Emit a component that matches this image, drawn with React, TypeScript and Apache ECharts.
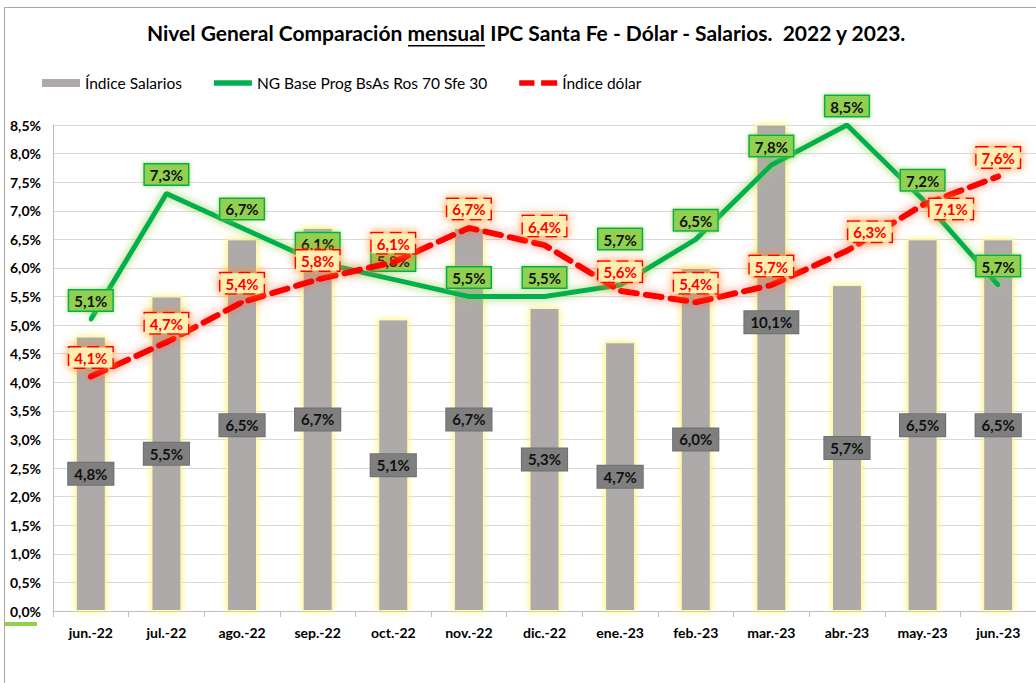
import React, { useEffect, useRef } from "react";
import * as echarts from "echarts";

const categories = ["jun.-22", "jul.-22", "ago.-22", "sep.-22", "oct.-22", "nov.-22", "dic.-22", "ene.-23", "feb.-23", "mar.-23", "abr.-23", "may.-23", "jun.-23"];
const salarios = [4.8, 5.5, 6.5, 6.7, 5.1, 6.7, 5.3, 4.7, 6.0, 10.1, 5.7, 6.5, 6.5];
const ngBase = [5.1, 7.3, 6.7, 6.1, 5.8, 5.5, 5.5, 5.7, 6.5, 7.8, 8.5, 7.2, 5.7];
const dolar = [4.1, 4.7, 5.4, 5.8, 6.1, 6.7, 6.4, 5.6, 5.4, 5.7, 6.3, 7.1, 7.6];

const NAME_SAL = "Índice Salarios";
const NAME_NG = "NG Base Prog BsAs Ros 70 Sfe 30";
const NAME_USD = "Índice dólar";

const FONT = "Lato, 'Noto Sans', sans-serif";
const fmt = (v: number) => v.toFixed(1).replace(".", ",") + "%";

export default function App() {
  const ref = useRef<HTMLDivElement>(null);
  useEffect(() => {
    if (!ref.current) return;
    const chart = echarts.init(ref.current, undefined, { renderer: "svg" });

    const ngData = ngBase.map((v, i) =>
      categories[i] === "ene.-23" ? { value: v, label: { offset: [0, -27] } } : v
    );
    const usdData = dolar.map((v, i) => {
      if (categories[i] === "abr.-23") return { value: v, label: { offset: [23, 0] } };
      if (categories[i] === "may.-23") return { value: v, label: { position: "right", distance: 5, offset: [0, 4] } };
      return v;
    });

    const option: any = {
      animation: false,
      backgroundColor: "#ffffff",
      textStyle: { fontFamily: FONT },
      title: {
        text: "Nivel General Comparación mensual IPC Santa Fe - Dólar - Salarios.  2022 y 2023.",
        left: 147,
        top: 22,
        padding: 0,
        textStyle: { fontFamily: FONT, fontSize: 21, fontWeight: "bold", color: "#000" },
      },
      legend: {
        left: 42,
        top: 75,
        padding: 0,
        itemGap: 32,
        itemWidth: 38,
        itemHeight: 8,
        textStyle: { fontFamily: FONT, fontSize: 15.5, color: "#000" },
        data: [
          { name: NAME_SAL, icon: "rect", itemStyle: { borderWidth: 0, shadowBlur: 0, color: "#aeaaaa" } },
          { name: NAME_NG, icon: "path://M0,0H40V6H0Z" },
          { name: NAME_USD, icon: "path://M0,0H16V6H0ZM23,0H40V6H23Z" },
        ],
      },
      grid: { left: 53, right: 0, top: 125, bottom: 72, containLabel: false },
      xAxis: {
        type: "category",
        data: categories,
        axisLine: { lineStyle: { color: "#bfbfbf" } },
        axisTick: { show: true, alignWithLabel: false, length: 6, lineStyle: { color: "#bfbfbf" } },
        axisLabel: { color: "#000", fontFamily: FONT, fontSize: 14, fontWeight: "bold", margin: 14 },
      },
      yAxis: {
        type: "value",
        min: 0,
        max: 8.5,
        interval: 0.5,
        axisLine: { show: true, lineStyle: { color: "#bfbfbf" } },
        axisTick: { show: false },
        splitLine: { lineStyle: { color: "#d9d9d9", width: 1 } },
        axisLabel: { color: "#000", fontFamily: FONT, fontSize: 14, fontWeight: "bold", margin: 12, formatter: (v: number) => fmt(v) },
      },
      series: [
        {
          name: NAME_SAL,
          type: "bar",
          data: salarios,
          barWidth: 30,
          clip: true,
          z: 2,
          itemStyle: {
            color: "#aeaaaa",
            borderColor: "#fffbb0",
            borderWidth: 1,
            shadowColor: "rgba(255,240,80,0.9)",
            shadowBlur: 6,
          },
        },
        {
          name: "labels-salarios",
          type: "bar",
          data: salarios,
          barWidth: 30,
          barGap: "-100%",
          clip: false,
          silent: true,
          z: 3,
          itemStyle: { color: "rgba(0,0,0,0)" },
          label: {
            show: true,
            position: "inside",
            formatter: (p: any) => fmt(p.value),
            color: "#111",
            fontFamily: FONT,
            fontSize: 15,
            fontWeight: "bold",
            backgroundColor: "#7f7f7f",
            borderColor: "#6f6f6f",
            borderWidth: 1,
            padding: [4, 6, 3, 6],
          },
        },
        {
          name: NAME_NG,
          type: "line",
          data: ngData,
          symbol: "circle",
          symbolSize: 4,
          z: 4,
          itemStyle: { color: "#00b050" },
          lineStyle: { color: "#00b050", width: 5, shadowColor: "rgba(146,208,80,0.9)", shadowBlur: 8 },
          label: {
            show: true,
            position: "top",
            distance: 7,
            formatter: (p: any) => fmt(p.value),
            color: "#111",
            fontFamily: FONT,
            fontSize: 15,
            fontWeight: "bold",
            backgroundColor: "#92d050",
            borderColor: "#00b050",
            borderWidth: 1.5,
            padding: [3, 5, 2, 5],
            shadowColor: "rgba(146,208,80,0.8)",
            shadowBlur: 4,
          },
        },
        {
          name: NAME_USD,
          type: "line",
          data: usdData,
          symbol: "circle",
          symbolSize: 4,
          z: 5,
          itemStyle: { color: "#ff0000" },
          lineStyle: { color: "#ff0000", width: 6, type: [16, 9], cap: "round", shadowColor: "rgba(255,90,60,0.7)", shadowBlur: 10 },
          label: {
            show: true,
            position: "top",
            distance: 7,
            formatter: (p: any) => fmt(p.value),
            color: "#ff0000",
            fontFamily: FONT,
            fontSize: 15,
            fontWeight: "bold",
            backgroundColor: "#ffeeb0",
            borderColor: "#ff0000",
            borderWidth: 1.5,
            borderType: "dashed",
            padding: [3, 5, 2, 5],
            shadowColor: "rgba(255,140,40,0.9)",
            shadowBlur: 10,
          },
        },
      ],
      graphic: [
        {
          type: "polyline",
          silent: true,
          shape: { points: [[4.5, 683], [4.5, 7.5], [1036, 7.5]] },
          style: { stroke: "#a6a6a6", lineWidth: 1, fill: "none" },
        },
        {
          type: "rect",
          silent: true,
          shape: { x: 5, y: 622, width: 32, height: 4 },
          style: { fill: "#92d050" },
        },
        {
          type: "rect",
          silent: true,
          shape: { x: 408, y: 45, width: 77, height: 1.5 },
          style: { fill: "#000" },
        },
      ],
    };
    chart.setOption(option);
    return () => chart.dispose();
  }, []);
  return <div ref={ref} style={{ position: "absolute", left: 0, top: 0, width: 1036, height: 683 }} />;
}
